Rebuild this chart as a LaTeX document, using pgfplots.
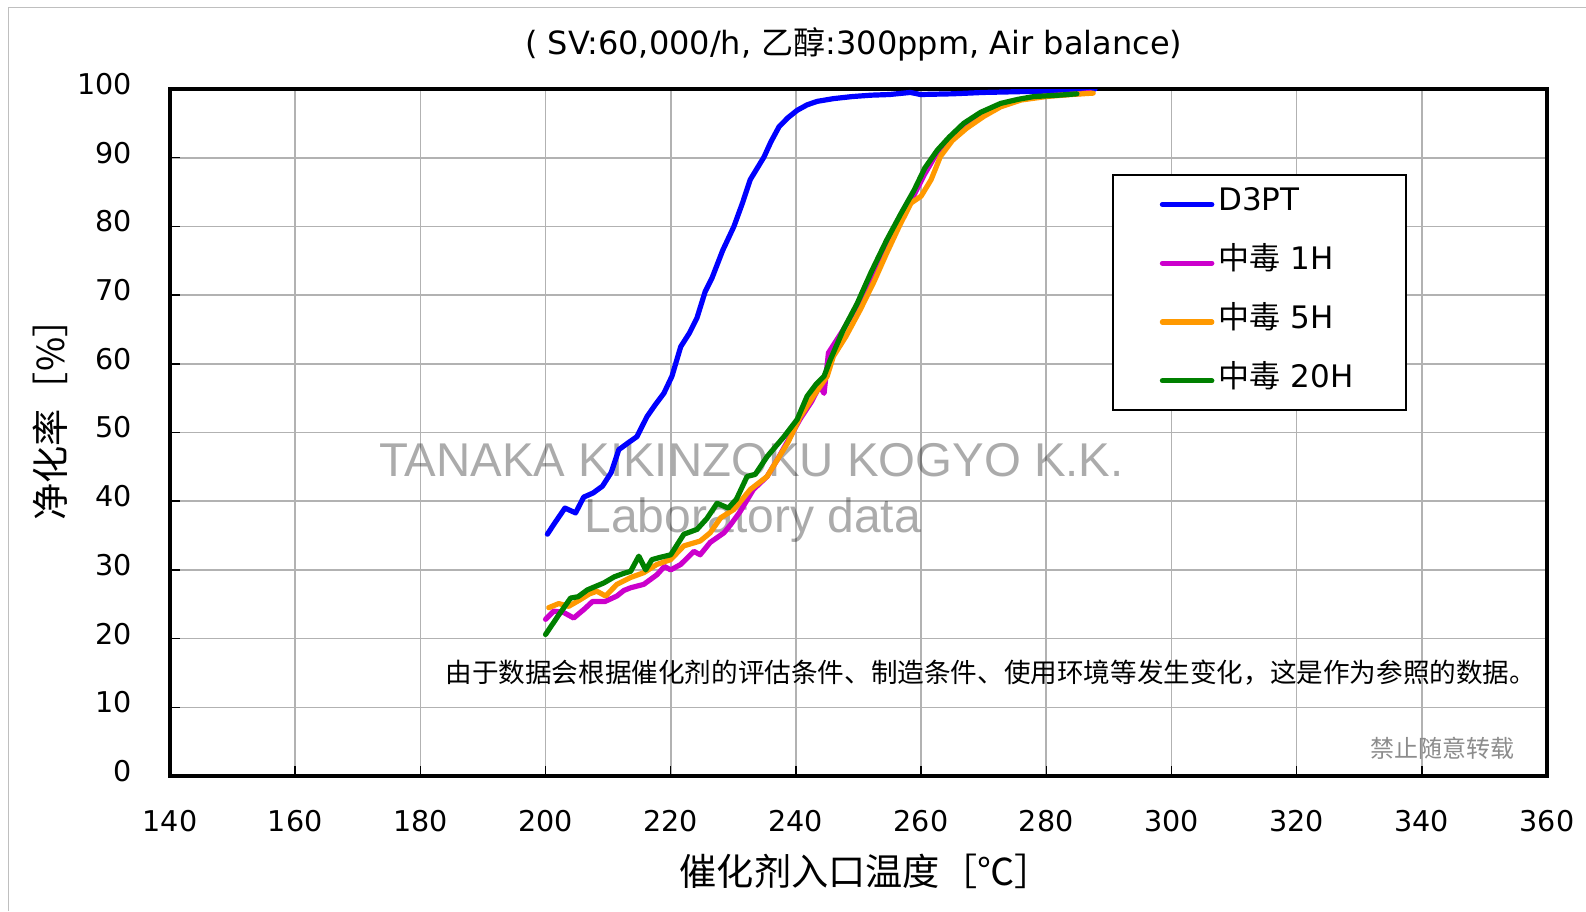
\documentclass[border=0pt]{standalone}
\usepackage{fontspec}
\setmainfont{DejaVu Sans}
\newfontfamily\cjk{Noto Sans CJK SC}
\newfontfamily\arial{Liberation Sans}
\usepackage{pgfplots}
\pgfplotsset{compat=1.18}
\definecolor{cD3}{RGB}{0,0,255}
\definecolor{c1H}{RGB}{204,0,204}
\definecolor{c5H}{RGB}{255,153,0}
\definecolor{c20H}{RGB}{0,128,0}
\begin{document}
\begin{tikzpicture}
\useasboundingbox (0,0) rectangle (793pt,-455.5pt);
\draw[black!25, line width=0.75pt] (4.15pt,-455.5pt) -- (4.15pt,-3.65pt) -- (793pt,-3.65pt);
\begin{axis}[
  at={(85pt,-388pt)}, anchor=south west,
  scale only axis, width=688.5pt, height=343.5pt,
  xmin=140, xmax=360, ymin=0, ymax=100,
  xtick={140,160,...,360}, ytick={0,10,...,100},
  grid=major, major grid style={black!30, line width=0.8pt},
  axis line style={line width=2pt},
  tick align=inside, tick pos=left, major tick length=5pt,
  tick style={black, line width=0.75pt},
  /pgf/number format/assume math mode=true,
  ticklabel style={font=\fontsize{14.3pt}{16pt}\selectfont},
  yticklabel style={anchor=east, inner sep=0pt, xshift=-18.75pt, yshift=2.5pt},
  xticklabel style={anchor=center, inner sep=0pt, yshift=-22.5pt},
  title={( SV:60,000/h, {\cjk 乙醇}:300ppm, Air balance)},
  title style={at={(axis description cs:0.5,1)}, anchor=center, yshift=16.3pt, xshift=-2.4pt, inner sep=0pt, font=\fontsize{16pt}{19pt}\selectfont},
  xlabel={\cjk 催化剂入口温度［℃］},
  xlabel style={at={(axis description cs:0.5,0)}, anchor=center, yshift=-47.8pt, xshift=3.6pt, inner sep=0pt, font=\fontsize{18.6pt}{21pt}\selectfont},
  ylabel={\cjk 净化率［\%］},
  ylabel style={at={(axis description cs:0,0.5)}, anchor=center, xshift=11pt, yshift=59.7pt, inner sep=0pt, font=\fontsize{18.6pt}{21pt}\selectfont},
  legend cell align=left,
  legend style={at={(0.6838,0.8763)}, anchor=north west, draw=black, line width=1pt, fill=white,
    inner xsep=23.6pt, inner ysep=0pt, row sep=0pt, column sep=2pt,
    font=\fontsize{15.5pt}{18pt}\selectfont,
    nodes={inner sep=0pt, anchor=west, text height=17.9pt, text depth=11.5pt, text width=70pt}},
  legend image code/.code={\draw[#1, line width=2.6pt, line cap=round] (0pt,0pt) -- (24.7pt,0pt);},
  every axis plot/.append style={line width=2.6pt, line join=round, line cap=round},
]
\node[text=black, text opacity=0.33, font=\arial\fontsize{23.7pt}{26pt}\selectfont, inner sep=0pt] at (axis cs:232.9,46.0) {TANAKA KIKINZOKU KOGYO K.K.};
\node[text=black, text opacity=0.33, font=\arial\fontsize{24pt}{26pt}\selectfont, inner sep=0pt] at (axis cs:233.1,37.3) {Laboratory data};

\addplot[cD3] coordinates {
(200.3,35.2) (201.3,36.6) (203.1,39.0) (204.8,38.3) (206.1,40.6) (207.6,41.2)
(209.1,42.2) (210.5,44.2) (211.7,47.5) (213.2,48.5) (214.6,49.4) (216.2,52.3)
(217.5,54.0) (218.9,55.7) (220.2,58.2) (221.6,62.5) (223.0,64.5) (224.2,66.7)
(225.5,70.5) (226.6,72.5) (228.3,76.5) (230.1,80.0) (231.5,83.5) (232.7,86.8)
(234.9,90.1) (236.0,92.3) (237.3,94.5) (238.7,95.8) (240.2,96.9) (241.8,97.7)
(243.4,98.2) (246.0,98.6) (249.0,98.9) (252.0,99.1) (255.0,99.2) (258.3,99.5)
(259.9,99.2) (265.0,99.3) (270.0,99.5) (275.0,99.6) (280.0,99.7) (285.0,99.8) (287.8,100)
};
\addlegendentry{D3PT}

\addplot[c1H] coordinates {
(200.0,22.8) (201.3,24.0) (202.9,23.8) (204.5,23.0) (206.2,24.3) (207.5,25.4)
(209.5,25.4) (211.4,26.2) (212.5,27.0) (213.6,27.4) (215.7,27.9) (217.8,29.3)
(219.0,30.5) (220.0,30.0) (221.6,30.8) (223.7,32.7) (224.7,32.2) (226.3,34.0)
(228.5,35.4) (229.5,36.5) (231.1,38.5) (233.2,41.7) (235.4,43.6) (237.0,46.0)
(239.1,49.4) (240.7,52.0) (242.5,54.5) (243.8,56.8) (244.5,55.7) (245.2,61.6)
(247.6,65.0) (249.8,68.5) (252.0,72.5) (254.5,77.5) (257.0,81.5) (259.0,84.8)
(260.5,87.5) (262.6,90.8) (264.5,92.8) (266.8,94.8) (269.5,96.5) (272.7,97.7)
(276.0,98.5) (280.0,99.0) (285.0,99.3) (287.0,99.5)
};
\addlegendentry{{\cjk 中毒} 1H}

\addplot[c5H] coordinates {
(200.5,24.5) (202.1,25.1) (203.7,24.7) (205.6,25.7) (207.0,26.5) (208.2,26.9)
(209.6,26.2) (211.4,27.9) (213.6,28.9) (215.7,29.6) (217.8,30.8) (220.0,31.5)
(222.1,33.5) (224.7,34.2) (226.3,35.4) (228.0,37.6) (230.1,38.8) (232.7,41.7)
(235.4,43.6) (237.0,46.0) (238.7,48.5) (240.7,52.3) (242.8,55.3) (245.0,58.2)
(246.0,61.1) (248.0,64.0) (250.3,67.9) (252.5,72.0) (254.5,76.1) (256.5,80.0)
(258.4,83.4) (260.0,84.4) (261.6,86.8) (263.1,90.2) (265.0,92.5) (267.3,94.3)
(270.0,96.0) (272.7,97.4) (276.0,98.4) (280.0,98.9) (284.0,99.2) (287.5,99.4)
};
\addlegendentry{{\cjk 中毒} 5H}

\addplot[c20H] coordinates {
(200.0,20.6) (202.0,23.3) (204.0,25.9) (205.2,26.1) (206.7,27.1) (209.3,28.1)
(211.0,29.0) (212.5,29.5) (213.6,29.8) (214.9,32.0) (216.0,30.0) (217.0,31.5)
(218.2,31.8) (220.0,32.2) (222.1,35.2) (224.2,35.9) (225.8,37.5) (227.4,39.7)
(229.2,39.0) (230.5,40.3) (232.2,43.6) (233.5,43.9) (235.4,46.5) (238.1,49.4)
(240.2,51.9) (241.8,55.3) (243.2,57.0) (244.5,58.2) (245.5,60.6) (247.6,65.0)
(249.8,68.8) (252.0,73.3) (254.5,78.0) (256.8,81.9) (258.9,85.3) (260.6,88.5)
(262.6,91.1) (264.5,93.0) (266.8,95.0) (269.5,96.6) (272.7,97.9) (275.5,98.5)
(278.0,98.9) (282.0,99.1) (284.9,99.3)
};
\addlegendentry{{\cjk 中毒} 20H}
\end{axis}
\node[anchor=west, inner sep=0pt, font=\cjk\fontsize{13.3pt}{15pt}\selectfont] at (222.5pt,-336.2pt) {由于数据会根据催化剂的评估条件、制造条件、使用环境等发生变化，这是作为参照的数据。};
\node[anchor=center, inner sep=0pt, text=black!45, font=\cjk\fontsize{12pt}{14pt}\selectfont] at (721.4pt,-374pt) {禁止随意转载};
\end{tikzpicture}
\end{document}
